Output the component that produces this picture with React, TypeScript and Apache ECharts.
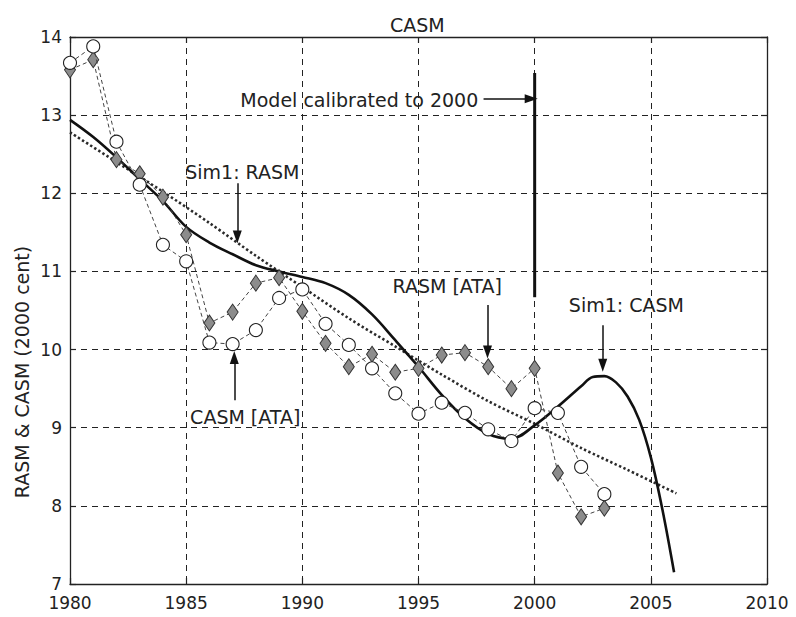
import React, { useEffect, useRef } from "react";
import * as echarts from "echarts";

const FONT = "'DejaVu Sans', 'Liberation Sans', sans-serif";

// Observed data (ATA)
const years = [
  1980, 1981, 1982, 1983, 1984, 1985, 1986, 1987, 1988, 1989, 1990, 1991,
  1992, 1993, 1994, 1995, 1996, 1997, 1998, 1999, 2000, 2001, 2002, 2003,
];
const casmAta = [
  13.67, 13.88, 12.66, 12.11, 11.34, 11.13, 10.09, 10.07, 10.25, 10.66, 10.77,
  10.33, 10.06, 9.76, 9.44, 9.18, 9.32, 9.19, 8.98, 8.83, 9.25, 9.19, 8.5, 8.15,
];
const rasmAta = [
  13.58, 13.71, 12.43, 12.25, 11.95, 11.47, 10.34, 10.48, 10.85, 10.92, 10.49,
  10.08, 9.78, 9.94, 9.71, 9.76, 9.93, 9.96, 9.78, 9.5, 9.76, 8.42, 7.86, 7.97,
];

// Simulated curves
const simCasmYears = [
  1980, 1981, 1982, 1983, 1984, 1985, 1986, 1987, 1988, 1989, 1990, 1991, 1992,
  1993, 1994, 1995, 1996, 1997, 1998, 1999, 2000, 2001, 2002, 2002.5, 2003,
  2003.5, 2004, 2004.5, 2005, 2005.5, 2006,
];
const simCasm = [
  12.94, 12.72, 12.46, 12.18, 11.9, 11.57, 11.37, 11.22, 11.08, 11.0, 10.93,
  10.85, 10.7, 10.45, 10.12, 9.78, 9.42, 9.12, 8.92, 8.86, 9.03, 9.27, 9.53,
  9.65, 9.66, 9.58, 9.4, 9.1, 8.62, 7.95, 7.15,
];
const simRasmYears = [
  1980, 1982, 1984, 1986, 1988, 1990, 1992, 1994, 1996, 1998, 2000, 2002, 2004,
  2006.1,
];
const simRasm = [
  12.78, 12.4, 12.02, 11.62, 11.2, 10.8, 10.4, 10.04, 9.68, 9.34, 9.05, 8.74,
  8.46, 8.16,
];

// Calibration marker (year, from, to)
const calibYear = 2000;
const calibRange = [13.54, 10.67];

// Axis ticks
const xTicks = { min: 1980, max: 2010, interval: 5 };
const yTicks = { min: 7, max: 14, interval: 1 };

// Annotations in data coordinates
const labels = [
  { text: "Model calibrated to 2000", at: [1987.33, 13.19] },
  { text: "Sim1: RASM", at: [1984.96, 12.27] },
  { text: "RASM [ATA]", at: [1993.88, 10.81] },
  { text: "Sim1: CASM", at: [2001.47, 10.57] },
  { text: "CASM [ATA]", at: [1985.17, 9.14] },
];
const arrows = [
  { from: [1997.8, 13.21], to: [1999.85, 13.21] },
  { from: [1987.2, 12.13], to: [1987.2, 11.44] },
  { from: [1997.97, 10.57], to: [1997.97, 9.97] },
  { from: [2002.93, 10.31], to: [2002.93, 9.8] },
  { from: [1987.07, 9.35], to: [1987.07, 9.9] },
];

const zip = (xs: number[], ys: number[]) => xs.map((x, i) => [x, ys[i]]);

export default function App() {
  const ref = useRef<HTMLDivElement>(null);
  useEffect(() => {
    const chart = echarts.init(ref.current!, null, { renderer: "svg" });
    const axisLine = { show: true, lineStyle: { color: "#222", width: 1.3 } };
    const tick = { show: true, inside: true, length: 6, lineStyle: { color: "#222", width: 1.2 } };
    const grid = { show: true, lineStyle: { color: "#222", width: 1, type: [6, 5] } };
    const option: any = {
      animation: false,
      backgroundColor: "#fff",
      title: {
        text: "CASM",
        left: 385,
        top: 10,
        textStyle: { fontFamily: FONT, fontSize: 19, fontWeight: "normal", color: "#222" },
      },
      grid: { left: 70, right: 29, top: 37, bottom: 33 },
      xAxis: [
        {
          type: "value",
          position: "bottom",
          ...xTicks,
          axisLine,
          axisTick: tick,
          splitLine: grid,
          axisLabel: {
            fontFamily: FONT,
            fontSize: 17,
            color: "#222",
            margin: 10,
            formatter: (v: number) => String(v),
          },
        },
        {
          type: "value",
          position: "top",
          ...xTicks,
          axisLine,
          axisTick: tick,
          splitLine: { show: false },
          axisLabel: { show: false },
        },
      ],
      yAxis: [
        {
          type: "value",
          position: "left",
          ...yTicks,
          axisLine,
          axisTick: tick,
          splitLine: grid,
          axisLabel: { fontFamily: FONT, fontSize: 17, color: "#222", margin: 8 },
        },
        {
          type: "value",
          position: "right",
          ...yTicks,
          axisLine,
          axisTick: tick,
          splitLine: { show: false },
          axisLabel: { show: false },
        },
      ],
      series: [
        {
          name: "Sim1: RASM",
          type: "line",
          data: zip(simRasmYears, simRasm),
          smooth: 0.3,
          symbol: "none",
          lineStyle: { color: "#2a2a2a", width: 2.6, type: [2.4, 2.4] },
          z: 3,
        },
        {
          name: "Sim1: CASM",
          type: "line",
          data: zip(simCasmYears, simCasm),
          smooth: 0.35,
          symbol: "none",
          lineStyle: { color: "#111", width: 2.6 },
          z: 4,
        },
        {
          name: "Calibration",
          type: "line",
          data: calibRange.map((v) => [calibYear, v]),
          symbol: "none",
          lineStyle: { color: "#111", width: 3 },
          z: 4,
          markLine: {
            silent: true,
            symbol: ["none", "triangle"],
            symbolSize: [9, 13],
            label: { show: false },
            lineStyle: { color: "#111", width: 1.5, type: "solid" },
            data: arrows.map((a) => [{ coord: a.from }, { coord: a.to }]),
          },
        },
        {
          name: "RASM [ATA]",
          type: "line",
          data: zip(years, rasmAta),
          symbol: "diamond",
          symbolSize: [11, 16],
          itemStyle: { color: "#8c8c8c", borderColor: "#333", borderWidth: 1 },
          lineStyle: { color: "#444", width: 1, type: [4, 3] },
          z: 5,
        },
        {
          name: "CASM [ATA]",
          type: "line",
          data: zip(years, casmAta),
          symbol: "circle",
          symbolSize: 13,
          itemStyle: { color: "#fff", borderColor: "#222", borderWidth: 1.1 },
          lineStyle: { color: "#444", width: 1, type: [4, 3] },
          z: 6,
        },
      ],
    };
    chart.setOption(option);
    const toPx = (p: number[]) => chart.convertToPixel({ seriesIndex: 0 }, p) as number[];
    const graphics: any[] = labels.map((l) => {
      const [x, y] = toPx(l.at);
      return {
        type: "text",
        x,
        y,
        z: 50,
        style: {
          text: l.text,
          fontFamily: FONT,
          fontSize: 19,
          fill: "#222",
          textAlign: "left",
          textVerticalAlign: "middle",
          verticalAlign: "middle",
        },
      };
    });
    graphics.push({
      type: "text",
      x: 22,
      y: 372,
      rotation: Math.PI / 2,
      style: {
        text: "RASM & CASM (2000 cent)",
        fontFamily: FONT,
        fontSize: 19,
        fill: "#222",
        textAlign: "center",
        textVerticalAlign: "middle",
        verticalAlign: "middle",
      },
    });
    chart.setOption({ graphic: graphics });
    return () => chart.dispose();
  }, []);
  return (
    <div
      ref={ref}
      style={{ position: "absolute", left: 0, top: 0, width: 796, height: 617, background: "#fff" }}
    />
  );
}
